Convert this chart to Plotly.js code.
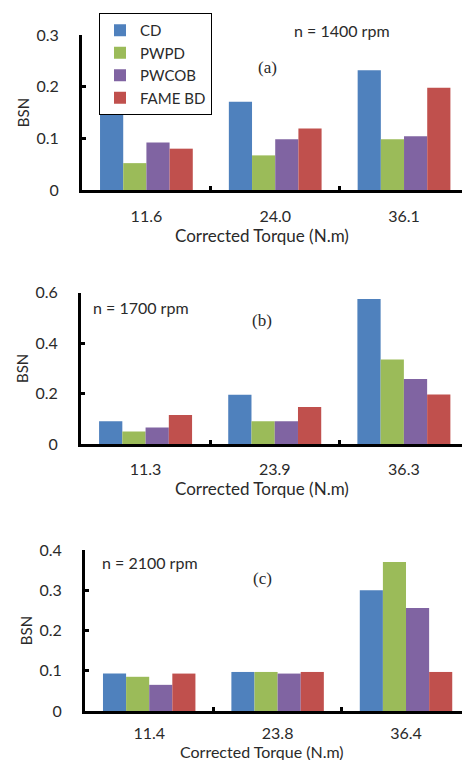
<!DOCTYPE html>
<html>
<head>
<meta charset="utf-8">
<script src="https://cdn.plot.ly/plotly-3.0.1.min.js"></script>
<style>html,body{margin:0;padding:0;background:#fff;}#chart{width:462px;height:760px;}</style>
</head>
<body>
<div id="chart"></div>
<script>
// ---- data ----
const seriesNames = ['CD', 'PWPD', 'PWCOB', 'FAME BD'];
const seriesColors = ['#4F81BD', '#9BBB59', '#8064A2', '#C0504D'];

// (a) n = 1400 rpm
const torqueA = ['11.6', '24.0', '36.1'];
const cdA    = [0.19, 0.171, 0.232];
const pwpdA  = [0.052, 0.067, 0.098];
const pwcobA = [0.092, 0.098, 0.104];
const fameA  = [0.080, 0.119, 0.198];

// (b) n = 1700 rpm
const torqueB = ['11.3', '23.9', '36.3'];
const cdB    = [0.090, 0.195, 0.575];
const pwpdB  = [0.050, 0.090, 0.335];
const pwcobB = [0.065, 0.090, 0.258];
const fameB  = [0.115, 0.147, 0.196];

// (c) n = 2100 rpm
const torqueC = ['11.4', '23.8', '36.4'];
const cdC    = [0.093, 0.097, 0.300];
const pwpdC  = [0.085, 0.097, 0.370];
const pwcobC = [0.065, 0.093, 0.256];
const fameC  = [0.093, 0.097, 0.097];

const yTitle = 'BSN';
const xTitle = 'Corrected Torque (N.m)';
const panelLabels = ['(a)', '(b)', '(c)'];
const speedLabels = ['n = 1400 rpm', 'n = 1700 rpm', 'n = 2100 rpm'];

// ---- traces ----
const panels = [
  {x: torqueA, ys: [cdA, pwpdA, pwcobA, fameA], xa: 'x',  ya: 'y',  legend: true},
  {x: torqueB, ys: [cdB, pwpdB, pwcobB, fameB], xa: 'x2', ya: 'y2', legend: false},
  {x: torqueC, ys: [cdC, pwpdC, pwcobC, fameC], xa: 'x3', ya: 'y3', legend: false}
];
const traces = [];
panels.forEach(p => {
  p.ys.forEach((vals, i) => {
    traces.push({
      type: 'bar', x: p.x, y: vals, name: seriesNames[i],
      xaxis: p.xa, yaxis: p.ya,
      marker: {color: seriesColors[i], line: {width: 0}},
      legendgroup: seriesNames[i], showlegend: p.legend,
      hoverinfo: 'skip'
    });
  });
});

const FONT = 'Lato, "Liberation Sans", sans-serif';
const SERIF = '"Liberation Serif", "DejaVu Serif", serif';
const TXT = '#2a2a2a';

function xAxis(domainLeft, rangeRight, standoff) {
  return {
    type: 'category', domain: [domainLeft, 1], range: [-0.5, rangeRight],
    showline: true, linecolor: '#000', linewidth: 3,
    ticks: 'inside', ticklen: 4, tickwidth: 3, tickcolor: '#000',
    tickson: 'boundaries', showgrid: false, zeroline: false,
    tickfont: {family: FONT, size: 16, color: TXT},
    ticklabelstandoff: standoff, automargin: false, fixedrange: true
  };
}
function yAxis(domain, top, dtick) {
  return {
    domain: domain, range: [0, top], dtick: dtick, tick0: 0,
    showline: true, linecolor: '#000', linewidth: 3,
    ticks: 'inside', ticklen: 4, tickwidth: 3, tickcolor: '#000',
    showgrid: false, zeroline: false,
    tickfont: {family: FONT, size: 16, color: TXT},
    ticklabelstandoff: 17, automargin: false, fixedrange: true,
    title: {text: yTitle, font: {family: FONT, size: 15, color: TXT}, standoff: 4}
  };
}

function paperText(text, px, py, anchor, font) {
  return {text: text, x: px / 462, y: 1 - py / 760, xref: 'paper', yref: 'paper',
          xanchor: anchor, yanchor: 'middle', showarrow: false, font: font};
}
const sansFont = {family: FONT, size: 16, color: TXT};
const titleFont = {family: FONT, size: 17, color: TXT};
const titleFontC = {family: FONT, size: 16, color: TXT};
const serifFont = {family: SERIF, size: 17, color: TXT};

const layout = {
  width: 462, height: 760,
  margin: {l: 0, r: 0, t: 0, b: 0},
  paper_bgcolor: '#fff', plot_bgcolor: '#fff',
  barmode: 'group', bargap: 0.28, bargroupgap: 0,
  font: {family: FONT, color: TXT},
  xaxis:  Object.assign(xAxis(82/462, 2.45, 10), {anchor: 'y'}),
  yaxis:  Object.assign(yAxis([1 - 190/760, 1 - 35/760], 0.3, 0.1), {anchor: 'x'}),
  xaxis2: Object.assign(xAxis(81/462, 2.45, 9), {anchor: 'y2'}),
  yaxis2: Object.assign(yAxis([1 - 444/760, 1 - 292.7/760], 0.6, 0.2), {anchor: 'x2'}),
  xaxis3: Object.assign(xAxis(85/462, 2.436, 6), {anchor: 'y3'}),
  yaxis3: Object.assign(yAxis([1 - 711/760, 1 - 550/760], 0.4, 0.1), {anchor: 'x3'}),
  showlegend: true,
  legend: {
    x: 99/462, y: 1 - 13/760, xanchor: 'left', yanchor: 'top',
    bgcolor: '#fff', bordercolor: '#000', borderwidth: 1,
    font: {family: FONT, size: 15, color: TXT},
    traceorder: 'normal', tracegroupgap: 1, itemwidth: 30
  },
  annotations: [
    paperText(speedLabels[0], 342, 30, 'center', sansFont),
    paperText(panelLabels[0], 267, 67, 'center', serifFont),
    paperText(xTitle, 262, 235, 'center', titleFont),
    paperText(speedLabels[1], 91, 307, 'left', sansFont),
    paperText(panelLabels[1], 262, 320, 'center', serifFont),
    paperText(xTitle, 262, 489, 'center', titleFont),
    paperText(speedLabels[2], 100, 562, 'left', sansFont),
    paperText(panelLabels[2], 262, 578, 'center', serifFont),
    paperText(xTitle, 262, 751, 'center', titleFontC)
  ]
};

Plotly.newPlot('chart', traces, layout, {staticPlot: true, displayModeBar: false});
</script>
</body>
</html>
